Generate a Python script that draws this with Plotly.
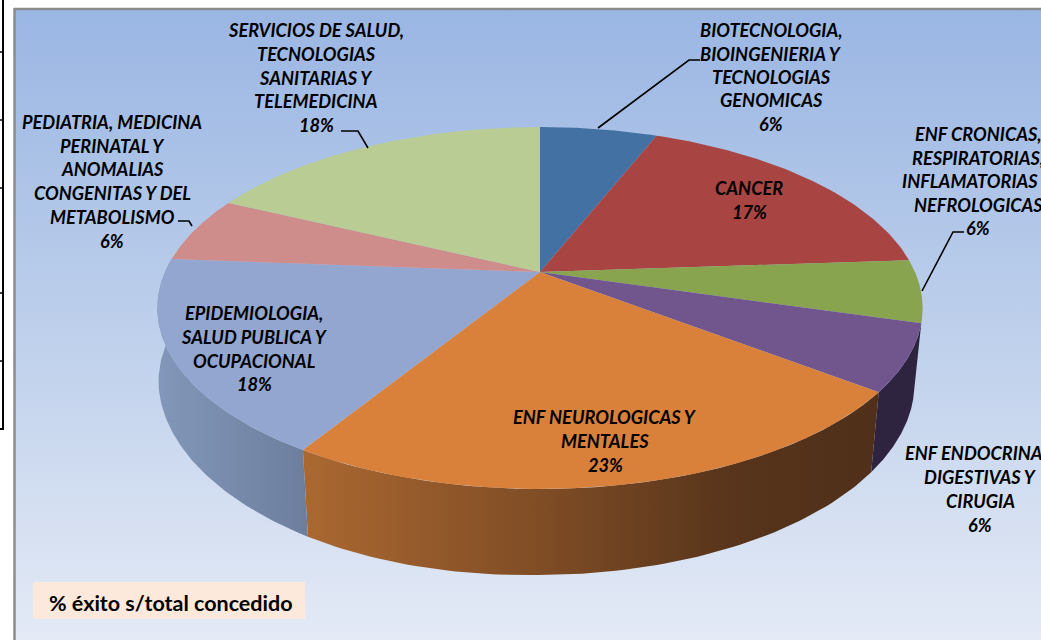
import numpy as np
import plotly.graph_objects as go

# ---- data (share of total, slice order clockwise from 12 o'clock)
categories = ["BIOTECNOLOGIA, BIOINGENIERIA Y TECNOLOGIAS GENOMICAS", "CANCER",
              "ENF CRONICAS, RESPIRATORIAS, INFLAMATORIAS Y NEFROLOGICAS",
              "ENF ENDOCRINAS, DIGESTIVAS Y CIRUGIA", "ENF NEUROLOGICAS Y MENTALES",
              "EPIDEMIOLOGIA, SALUD PUBLICA Y OCUPACIONAL",
              "PEDIATRIA, MEDICINA PERINATAL Y ANOMALIAS CONGENITAS Y DEL METABOLISMO",
              "SERVICIOS DE SALUD, TECNOLOGIAS SANITARIAS Y TELEMEDICINA"]
values = [6.0, 17.9, 5.6, 5.9, 23.4, 17.4, 5.9, 17.9]
top_colors = ["#4471A4", "#A84543", "#88A44E", "#71568E", "#D9803A", "#92A6CF", "#CE8C8B", "#B8CC94"]
side_scales = [
    None, None, None,
    [[0, "#2F2440"], [1, "#2E2440"]],
    [[0, "#AB6831"], [0.45, "#7B4A24"], [0.75, "#57341B"], [1, "#50301A"]],
    [[0, "#8297B9"], [1, "#6D7E9D"]],
    None, None,
]

label_lines = [
    ["BIOTECNOLOGIA,", "BIOINGENIERIA Y", "TECNOLOGIAS", "GENOMICAS", "6%"],
    ["CANCER", "17%"],
    ["ENF CRONICAS,", "RESPIRATORIAS,", "INFLAMATORIAS Y", "NEFROLOGICAS", "6%"],
    ["ENF ENDOCRINAS,", "DIGESTIVAS Y", "CIRUGIA", "6%"],
    ["ENF NEUROLOGICAS Y", "MENTALES", "23%"],
    ["EPIDEMIOLOGIA,", "SALUD PUBLICA Y", "OCUPACIONAL", "18%"],
    ["PEDIATRIA, MEDICINA", "PERINATAL Y", "ANOMALIAS", "CONGENITAS Y DEL", "METABOLISMO", "6%"],
    ["SERVICIOS DE SALUD,", "TECNOLOGIAS", "SANITARIAS Y", "TELEMEDICINA", "18%"],
]
caption = "% éxito s/total concedido"

# ---- layout / projection constants (screen pixels)
W, H = 1041, 640
CX, CY = 540, 272
PK, PA, PS = -0.199, 173.8, 375.0
label_x = [771, 749, 978, 980, 605, 254, 112, 316]
label_y = [
    [30, 54, 77, 100, 124], [188, 212], [134, 158, 181, 205, 228], [453, 477, 501, 525],
    [417, 441, 465], [313, 337, 361, 384], [122, 146, 169, 193, 217, 241], [30, 54, 78, 101, 125],
]
leaders = [
    ([598, 689, 700], [128, 60, 60]),
    ([922, 953, 964], [291, 232, 232]),
    ([192, 189, 178], [226, 221, 221]),
    ([341, 358, 368], [131, 131, 148]),
]
table_y = [52, 120, 188, 293, 361]
FONT = "Lato"
LABEL_SIZE = 18.2


def top(theta):
    sx, sy = np.sin(theta), -np.cos(theta)
    d = 1 + PK * sy
    return PS * sx / d, PA * sy / d


def rim(theta):
    hx, hy = top(theta)
    return CX + hx, CY + hy


def bottom(theta):
    hx, hy = top(theta)
    bend = np.clip((hy - 36) / 142, 0, 1) * np.clip(-hx / 237, 0, 1)
    return 536.5 + hx * 0.988 + 5.7 * bend, CY + hy * 1.062 + 72.6 + 3 * bend


fig = go.Figure()


def poly(xs, ys, **kw):
    fig.add_trace(go.Scatter(x=list(xs), y=list(ys), mode="lines", fill="toself",
                             line=dict(width=0), hoverinfo="skip", showlegend=False, **kw))


# background gradient
poly([14, W, W, 14], [9, 9, H, H],
     fillgradient=dict(type="vertical", start=9, stop=H,
                       colorscale=[[0, "#9AB6E3"], [0.5, "#BDCFEB"], [1, "#E4EAF6"]]))

edges = np.cumsum([0] + values) / sum(values) * 2 * np.pi

# side walls
for i, scale in enumerate(side_scales):
    if scale is None:
        continue
    t = np.linspace(edges[i], edges[i + 1], 80)
    x1, y1 = rim(t)
    x2, y2 = bottom(t[::-1])
    xs = np.r_[x1, x2]
    ys = np.r_[y1, y2]
    poly(xs, ys, fillgradient=dict(type="horizontal", start=float(xs.min()), stop=float(xs.max()),
                                   colorscale=scale))

# top faces
for i, c in enumerate(top_colors):
    t = np.linspace(edges[i], edges[i + 1], 80)
    x1, y1 = rim(t)
    poly(np.r_[CX, x1, CX], np.r_[CY, y1, CY], fillcolor=c)

# leader lines
for lx, ly in leaders:
    fig.add_trace(go.Scatter(x=lx, y=ly, mode="lines", line=dict(color="#000000", width=1.6),
                             hoverinfo="skip", showlegend=False))

# labels
annotations = []
for lines, x, ys in zip(label_lines, label_x, label_y):
    for line, y in zip(lines, ys):
        annotations.append(dict(x=x, y=y, text=f"<b><i>{line}</i></b>", showarrow=False,
                                xanchor="center", yanchor="middle",
                                font=dict(family=FONT, size=LABEL_SIZE, color="#000000")))
annotations.append(dict(x=171, y=603, text=f"<b>{caption}</b>", showarrow=False, xanchor="center",
                        yanchor="middle", font=dict(family=FONT, size=21.5, color="#000000")))

shapes = [
    dict(type="rect", x0=33, x1=305, y0=582, y1=619, fillcolor="#FDE9DB", line=dict(width=0), layer="above"),
    dict(type="line", x0=14.5, x1=14.5, y0=8, y1=H, line=dict(color="#8C8C8C", width=2.5), layer="above"),
    dict(type="line", x0=14, x1=W, y0=9, y1=9, line=dict(color="#8C8C8C", width=2.5), layer="above"),
    dict(type="line", x0=3, x1=3, y0=0, y1=430, line=dict(color="#000000", width=2), layer="above"),
]
for y in table_y:
    shapes.append(dict(type="line", x0=0, x1=3, y0=y, y1=y, line=dict(color="#000000", width=1.5), layer="above"))
shapes.append(dict(type="line", x0=0, x1=3, y0=429, y1=429, line=dict(color="#000000", width=2), layer="above"))

fig.update_layout(
    width=W, height=H, margin=dict(l=0, r=0, t=0, b=0), paper_bgcolor="#FFFFFF", plot_bgcolor="#FFFFFF",
    xaxis=dict(range=[0, W], visible=False, fixedrange=True),
    yaxis=dict(range=[H, 0], visible=False, fixedrange=True),
    showlegend=False, annotations=annotations, shapes=shapes,
)
fig.write_html("out.html", config=dict(displayModeBar=False),
               post_script="document.body.style.margin='0';document.body.style.overflow='hidden';")
